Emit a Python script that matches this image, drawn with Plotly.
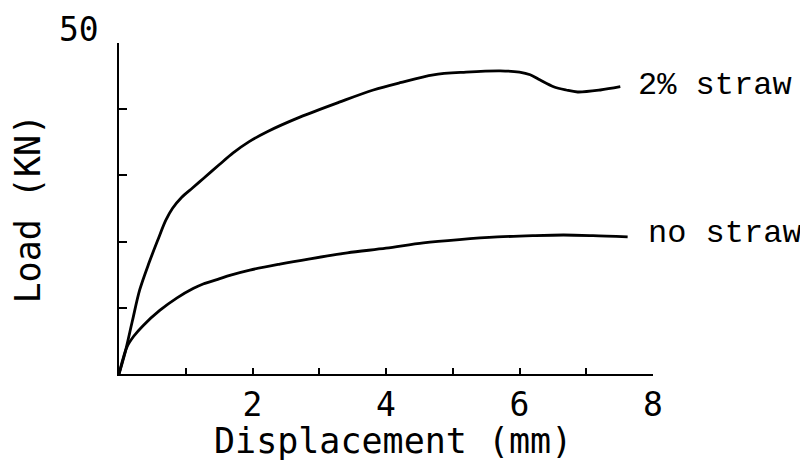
import plotly.graph_objects as go

# Displacement (mm) and load (kN)
x_straw = [0, 0.09, 0.2, 0.31, 0.45, 0.58, 0.7, 0.8, 0.94, 1.1, 1.26, 1.5, 1.71, 1.95,
           2.22, 2.71, 3.31, 3.81, 4.21, 4.71, 5.2, 5.71, 6.0, 6.16, 6.31, 6.51, 6.7,
           6.87, 7.21, 7.51]
y_straw = [0, 3.2, 8.0, 12.7, 16.8, 20.2, 23.2, 25.0, 26.7, 28.1, 29.5, 31.6, 33.4, 35.1,
           36.6, 38.8, 41.1, 42.9, 44.0, 45.2, 45.6, 45.8, 45.6, 45.2, 44.4, 43.4, 42.9,
           42.6, 42.9, 43.4]

x_none = [0, 0.12, 0.22, 0.36, 0.61, 0.87, 1.11, 1.26, 1.51, 1.66, 1.96, 2.41, 2.86, 3.42,
          4.0, 4.56, 5.1, 5.67, 6.2, 6.66, 7.1, 7.62]
y_none = [0, 4.1, 5.7, 7.3, 9.6, 11.5, 12.9, 13.6, 14.4, 14.9, 15.7, 16.6, 17.4, 18.3,
          19.0, 19.8, 20.3, 20.7, 20.9, 21.0, 20.9, 20.7]

series_labels = ["2% straw", "no straw"]
x_ticks = [1, 2, 3, 4, 5, 6, 7, 8]
x_ticktext = ["", "2", "", "4", "", "6", "", "8"]
y_ticks = [10, 20, 30, 40, 50]

line_style = dict(color="black", width=2.8, shape="spline", smoothing=0.9)

fig = go.Figure()
fig.add_trace(go.Scatter(x=x_straw, y=y_straw, mode="lines", line=line_style,
                         name=series_labels[0], showlegend=False))
fig.add_trace(go.Scatter(x=x_none, y=y_none, mode="lines", line=line_style,
                         name=series_labels[1], showlegend=False))

mono = "DejaVu Sans Mono"
# page body has an 8px default margin, so the figure is 800x453
fig.update_layout(
    width=800, height=453,
    margin=dict(l=111, r=155, t=35, b=87),
    paper_bgcolor="white", plot_bgcolor="white",
    xaxis=dict(range=[0, 8], showgrid=False, zeroline=False, showline=True,
               linecolor="black", linewidth=2, ticks="inside", ticklen=6,
               tickwidth=2, tickcolor="black", tickvals=x_ticks, ticktext=x_ticktext,
               tickfont=dict(family=mono, size=33, color="black"),
               ticklabelstandoff=0),
    yaxis=dict(range=[0, 50], showgrid=False, zeroline=False, showline=True,
               linecolor="black", linewidth=2, ticks="inside", ticklen=8,
               tickwidth=2, tickcolor="black", tickvals=y_ticks,
               showticklabels=False),
    annotations=[
        dict(text="50", xref="paper", yref="y", x=0, y=50, xanchor="right",
             yanchor="bottom", xshift=-18, yshift=-8, showarrow=False,
             font=dict(family=mono, size=33, color="black")),
        dict(text="Displacement (mm)", xref="paper", yref="paper", x=0.513, y=0,
             xanchor="center", yanchor="middle", yshift=-67, showarrow=False,
             font=dict(family=mono, size=35, color="black")),
        dict(text="Load (KN)", xref="paper", yref="paper", x=0, y=0.5,
             xanchor="center", yanchor="middle", xshift=-92, textangle=-90,
             showarrow=False, font=dict(family=mono, size=35, color="black")),
        dict(text=series_labels[0], xref="x", yref="y", x=x_straw[-1], y=y_straw[-1],
             xanchor="left", yanchor="middle", xshift=16, yshift=1, showarrow=False,
             font=dict(family="Courier New, Liberation Mono", size=32, color="black")),
        dict(text=series_labels[1], xref="x", yref="y", x=x_none[-1], y=y_none[-1],
             xanchor="left", yanchor="middle", xshift=18, yshift=3, showarrow=False,
             font=dict(family="Courier New, Liberation Mono", size=32, color="black")),
    ],
)

fig.write_html("out.html")
